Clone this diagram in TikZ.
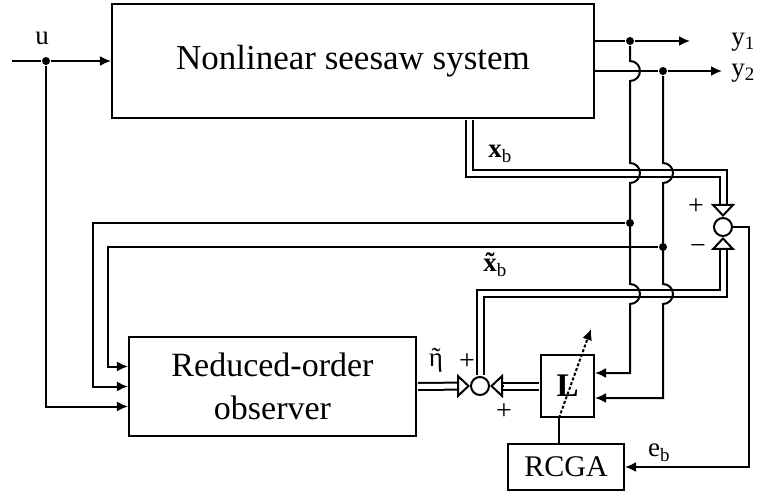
\documentclass[tikz,border=0pt]{standalone}
\usepackage{fontspec}
\setmainfont{Liberation Serif}
\usetikzlibrary{arrows.meta}
\newcommand{\tildeover}[1]{\ooalign{#1\cr\hidewidth\char"02DC\hidewidth\cr}}
\begin{document}
\begin{tikzpicture}[x=1bp,y=-1bp,line width=2bp,>={Latex[length=11bp,width=10bp]},
  every node/.style={font=\fontsize{27bp}{31bp}\selectfont},
  block/.style={draw,inner sep=0pt,align=center},
  dot/.style={circle,fill,inner sep=0pt,minimum size=8bp},
  sum/.style={circle,draw,inner sep=0pt,minimum size=18bp},
  dbl/.style={double,double distance=5bp,shorten <=1bp,shorten >=13bp},
  hollow/.style={-{Triangle[open,length=13bp,width=24bp]}},
  sign/.style={font=\fontsize{28bp}{32bp}\selectfont}]
\useasboundingbox (0,0) rectangle (759,495);
% blocks
\node[block,minimum width=482bp,minimum height=114bp,font=\fontsize{35bp}{42bp}\selectfont] (plant) at (353,61) {Nonlinear seesaw system};
\node[block,minimum width=287bp,minimum height=99bp,font=\fontsize{34bp}{43bp}\selectfont] (obs) at (272.5,386.5) {Reduced-order\\observer};
\node[block,minimum width=53bp,minimum height=62bp,font=\fontsize{33bp}{36bp}\selectfont\bfseries] (gain) at (567.5,386) {L};
\node[block,minimum width=116bp,minimum height=46bp,font=\fontsize{30bp}{36bp}\selectfont] (rcga) at (566,467) {RCGA};
\node[sum] (sumA) at (723,227) {};
\node[sum] (sumB) at (480,386) {};
% branch points
\node[dot] (ju) at (46,61) {};
\node[dot] (jya) at (630,41) {};
\node[dot] (jyb) at (663,71) {};
\node[dot] (jfa) at (630,223) {};
\node[dot] (jfb) at (663,247) {};
\coordinate (uin) at (12,61);
\coordinate (yaout) at (690,41);
\coordinate (ybout) at (722,71);
\coordinate (tune) at ([xshift=-8.5bp]gain.south);
\coordinate (tunetip) at (591,329);
% labels
\node (ulab) at (42,38) {u};
\node (yalab) at (743,42) {y\textsubscript{1}};
\node (yblab) at (743,73) {y\textsubscript{2}};
\node (xblab) at (500,154) {\textbf{x}\textsubscript{b}};
\node (xtlab) at (495,268) {\textbf{\tildeover{x}}\textsubscript{b}};
\node (etalab) at (436,360) {\tildeover{η}};
\node (eblab) at (659,453) {e\textsubscript{b}};
\node[sign] (pa) at (696,207) {+};
\node[sign] (ma) at (698,250) {−};
\node[sign] (pb) at (467,362) {+};
\node[sign] (pc) at (504,412) {+};
% input and outputs
\draw[->] (uin) -- (ju) -- (plant.west);
\draw[->] (ju) |- ([yshift=-20bp]obs.west);
\draw[->] (plant.east |- jya) -- (jya) -- (yaout);
\draw[->] (plant.east |- jyb) -- (jyb) -- (ybout);
% vector signals
\draw[dbl] ([xshift=116bp]plant.south) -- ++(0,55) -| (sumA.north);
\draw[hollow] ([yshift=13bp]sumA.north) -- (sumA.north);
\draw[dbl] (sumB.north) -- ++(0,-83) -| (sumA.south);
\draw[hollow] ([yshift=-13bp]sumA.south) -- (sumA.south);
\draw[dbl] (obs.east) -- (sumB.west);
\draw[hollow] ([xshift=-13bp]sumB.west) -- (sumB.west);
\draw[dbl] (gain.west) -- (sumB.east);
\draw[hollow] ([xshift=13bp]sumB.east) -- (sumB.east);
% measured outputs with hops
\draw[->] (jya) -- ++(0,20) arc[start angle=-90,end angle=90,radius=10]
  -- ++(0,82) arc[start angle=-90,end angle=90,radius=10]
  -- ++(0,101) arc[start angle=-90,end angle=90,radius=10]
  |- ([yshift=13bp]gain.east);
\draw[->] (jyb) -- ++(0,92) arc[start angle=-90,end angle=90,radius=10]
  -- ++(0,101) arc[start angle=-90,end angle=90,radius=10]
  |- ([yshift=-12bp]gain.east);
\draw[->] (jfa) -- ++(-537,0) |- (obs.west);
\draw[->] (jfb) -- ++(-555,0) |- ([yshift=20bp]obs.west);
% error and tuning
\draw[->] (sumA.east) -- ++(16,0) |- (rcga.east);
\draw (rcga.north -| tune) -- (tune);
\draw[->,dash pattern=on 3bp off 2bp] (tune) -- (tunetip);
\end{tikzpicture}
\end{document}
